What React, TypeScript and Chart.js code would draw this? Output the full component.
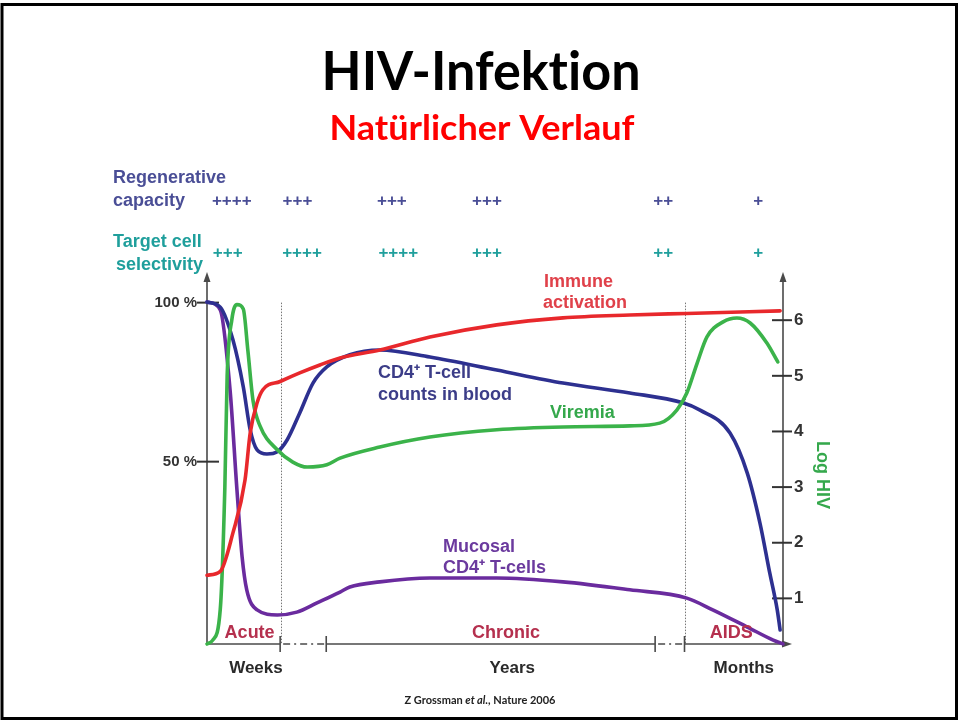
import React, { useEffect, useRef } from 'react';
import { Chart, registerables } from 'chart.js';

Chart.register(...registerables);

// ---- Data (time axis is schematic 0..100, left axis %, right axis log HIV) ----
const immuneX = [0, 2.3, 4.5, 6.6, 7.5, 8.7, 9.7, 12.7, 16.1, 19.6, 23.1, 30.0, 38.7, 50.3, 61.8, 73.4, 83.3, 99.5];
const immuneY = [14.3, 15.5, 27.6, 44.2, 59.0, 68.5, 72.6, 75.2, 77.9, 80.4, 82.6, 85.1, 89.2, 93.0, 95.2, 96.1, 96.6, 97.4];

const cd4BloodX = [0, 2.3, 4.5, 6.3, 7.5, 8.7, 10.4, 12.2, 13.9, 16.1, 18.4, 20.8, 24.8, 30.0, 38.7, 50.3, 61.8, 73.4, 82.6, 85.6, 90.8, 93.8, 96.0, 97.7, 99.0, 99.5];
const cd4BloodY = [100.2, 98.6, 88.3, 73.5, 60.0, 53.7, 52.4, 53.1, 56.8, 65.3, 74.7, 79.8, 83.6, 85.1, 82.9, 78.8, 74.7, 71.6, 68.5, 66.2, 59.0, 46.4, 30.7, 15.0, 3.4, -2.9];

const viremiaX = [0, 1.0, 2.3, 3.1, 3.5, 4.3, 5.2, 6.3, 7.1, 8.0, 9.2, 12.2, 14.9, 17.4, 20.8, 23.1, 30.0, 38.7, 50.3, 61.8, 73.4, 78.6, 81.6, 83.3, 85.1, 86.8, 89.6, 92.0, 94.3, 97.2, 99.1];
const viremiaY = [0.18, 0.25, 0.8, 3.0, 5.0, 6.0, 6.28, 6.2, 5.45, 4.55, 4.1, 3.67, 3.45, 3.36, 3.4, 3.52, 3.72, 3.9, 4.03, 4.08, 4.1, 4.15, 4.39, 4.69, 5.23, 5.7, 5.97, 6.04, 5.95, 5.59, 5.25];

const mucosalX = [0, 2.3, 4.0, 5.2, 6.1, 6.9, 8.7, 12.2, 15.6, 19.1, 23.1, 24.8, 30.0, 38.7, 50.3, 61.8, 73.4, 83.3, 87.8, 93.8, 98.3, 100];
const mucosalY = [100.2, 97.7, 72.6, 41.1, 20.0, 9.7, 3.4, 1.8, 2.7, 5.6, 9.0, 10.6, 12.2, 13.4, 13.4, 12.2, 9.7, 7.1, 3.4, -2.0, -6.1, -7.3];

const leftTicks = [50, 100];
const rightTicks = [1, 2, 3, 4, 5, 6];

const timeUnitLabels = ['Weeks', 'Years', 'Months'];
const timeUnitPos = [8.5, 53.0, 93.2];

const phaseLabels = ['Acute', 'Chronic', 'AIDS'];
const phasePos = [7.4, 51.9, 91.0];
const axisBreaks = [12.7, 20.7, 77.8, 82.9];
const dottedLines = [12.9, 83.0];

const regenLevels = ['++++', '+++', '+++', '+++', '++', '+'];
const regenPos = [4.3, 15.7, 32.1, 48.6, 79.2, 95.7];
const selectLevels = ['+++', '++++', '++++', '+++', '++', '+'];
const selectPos = [3.6, 16.5, 33.2, 48.6, 79.2, 95.7];

// ---- Styles ----
const RED = '#e8282c';
const BLUE = '#2d3090';
const GREEN = '#3bb34a';
const PURPLE = '#6a2b9e';
const REGEN_C = '#4a4e96';
const SELECT_C = '#1f9f9c';
const PHASE_C = '#b5304e';
const AXIS_C = '#4a4a4a';
const FONT = '"Liberation Sans", Arial, sans-serif';

const pts = (xs: number[], ys: number[]) => xs.map((x, i) => ({ x, y: ys[i] }));

function fitText(ctx: CanvasRenderingContext2D, text: string, cx: number, y: number, font: string, targetW: number, color: string) {
  ctx.save();
  ctx.font = font;
  const w = ctx.measureText(text).width;
  const sx = targetW / w;
  ctx.translate(cx, y);
  ctx.scale(sx, 1);
  ctx.fillStyle = color;
  ctx.textAlign = 'center';
  ctx.textBaseline = 'alphabetic';
  ctx.fillText(text, 0, 0);
  ctx.restore();
}

function txt(ctx: CanvasRenderingContext2D, text: string, x: number, y: number, size: number, color: string, align: CanvasTextAlign = 'left') {
  ctx.font = `bold ${size}px ${FONT}`;
  ctx.fillStyle = color;
  ctx.textAlign = align;
  ctx.textBaseline = 'middle';
  ctx.fillText(text, x, y);
}

const decor = {
  id: 'decor',
  beforeDraw(chart: any) {
    const ctx = chart.ctx as CanvasRenderingContext2D;
    ctx.save();
    ctx.fillStyle = '#ffffff';
    ctx.fillRect(0, 0, chart.width, chart.height);
    ctx.strokeStyle = '#000';
    ctx.lineWidth = 3;
    ctx.strokeRect(2, 4.5, 954.5, 714);
    ctx.restore();
  },
  beforeDatasetsDraw(chart: any) {
    const ctx = chart.ctx as CanvasRenderingContext2D;
    const xs = chart.scales.x;
    const a = chart.chartArea;
    ctx.save();
    // dotted phase separators
    ctx.strokeStyle = '#777';
    ctx.lineWidth = 1;
    ctx.setLineDash([1.5, 1.5]);
    for (const v of dottedLines) {
      const px = Math.round(xs.getPixelForValue(v)) + 0.5;
      ctx.beginPath();
      ctx.moveTo(px, chart.scales.y.getPixelForValue(100));
      ctx.lineTo(px, a.bottom);
      ctx.stroke();
    }
    ctx.setLineDash([]);
    // axes
    ctx.strokeStyle = AXIS_C;
    ctx.fillStyle = AXIS_C;
    ctx.lineWidth = 1.6;
    ctx.beginPath();
    ctx.moveTo(a.left, a.top + 4);
    ctx.lineTo(a.left, a.bottom);
    ctx.moveTo(a.right, a.top + 4);
    ctx.lineTo(a.right, a.bottom);
    ctx.stroke();
    // arrows
    const arrowUp = (x: number, y: number) => {
      ctx.beginPath();
      ctx.moveTo(x, y);
      ctx.lineTo(x - 3.5, y + 10);
      ctx.lineTo(x + 3.5, y + 10);
      ctx.closePath();
      ctx.fill();
    };
    arrowUp(a.left, a.top - 2);
    arrowUp(a.right, a.top - 2);
    const endX = a.right + 9;
    ctx.beginPath();
    ctx.moveTo(endX, a.bottom);
    ctx.lineTo(endX - 10, a.bottom - 3.5);
    ctx.lineTo(endX - 10, a.bottom + 3.5);
    ctx.closePath();
    ctx.fill();
    // bottom axis with dash-dot breaks
    const b = axisBreaks.map((v) => xs.getPixelForValue(v));
    const seg = (x1: number, x2: number, dash: number[]) => {
      ctx.setLineDash(dash);
      ctx.beginPath();
      ctx.moveTo(x1, a.bottom);
      ctx.lineTo(x2, a.bottom);
      ctx.stroke();
    };
    seg(a.left, b[0], []);
    seg(b[0] + 3, b[1], [7, 4, 2, 4]);
    seg(b[1], b[2], []);
    seg(b[2] + 3, b[3], [7, 4, 2, 4]);
    seg(b[3], endX - 6, []);
    ctx.setLineDash([]);
    ctx.lineWidth = 1.6;
    for (const px of b) {
      ctx.beginPath();
      ctx.moveTo(px, a.bottom - 8);
      ctx.lineTo(px, a.bottom + 8);
      ctx.stroke();
    }
    // left/right tick marks
    ctx.lineWidth = 2;
    ctx.strokeStyle = '#333';
    for (const v of leftTicks) {
      const py = chart.scales.y.getPixelForValue(v);
      ctx.beginPath();
      ctx.moveTo(a.left - 10, py);
      ctx.lineTo(a.left + 12, py);
      ctx.stroke();
    }
    for (const v of rightTicks) {
      const py = chart.scales.y2.getPixelForValue(v);
      ctx.beginPath();
      ctx.moveTo(a.right - 11, py);
      ctx.lineTo(a.right + 9, py);
      ctx.stroke();
    }
    ctx.restore();
  },
  afterDraw(chart: any) {
    const ctx = chart.ctx as CanvasRenderingContext2D;
    const xs = chart.scales.x;
    ctx.save();
    // title & subtitle (ZWNJ keeps "t" and "i" as separate glyphs)
    fitText(ctx, 'HIV-Infekt\u200Cion', 481, 90, `bold 53px Lato, "Open Sans", sans-serif`, 319, '#000');
    fitText(ctx, 'Natürlicher Verlauf', 482, 140, `bold 35px Lato, "Open Sans", sans-serif`, 305, '#ff0000');

    // top rows
    txt(ctx, 'Regenerative', 113, 178, 18, REGEN_C);
    txt(ctx, 'capacity', 113, 201, 18, REGEN_C);
    txt(ctx, 'Target cell', 113, 242, 18, SELECT_C);
    txt(ctx, 'selectivity', 116, 265, 18, SELECT_C);
    regenLevels.forEach((s, i) => txt(ctx, s, xs.getPixelForValue(regenPos[i]), 201, 17, REGEN_C, 'center'));
    selectLevels.forEach((s, i) => txt(ctx, s, xs.getPixelForValue(selectPos[i]), 253, 17, SELECT_C, 'center'));

    // series labels
    txt(ctx, 'Immune', 544, 282, 18, '#e0414a');
    txt(ctx, 'activation', 543, 303, 18, '#e0414a');
    txt(ctx, 'CD4⁺ T-cell', 378, 373, 18, '#3c3d88');
    txt(ctx, 'counts in blood', 378, 395, 18, '#3c3d88');
    txt(ctx, 'Viremia', 550, 413, 18, '#35a84c');
    txt(ctx, 'Mucosal', 443, 547, 18, '#6b3a9e');
    txt(ctx, 'CD4⁺ T-cells', 443, 568, 18, '#6b3a9e');

    // phases
    phaseLabels.forEach((s, i) => txt(ctx, s, xs.getPixelForValue(phasePos[i]), 633, 18, PHASE_C, 'center'));

    // Log HIV (rotated)
    ctx.save();
    ctx.translate(822, 475);
    ctx.rotate(Math.PI / 2);
    txt(ctx, 'Log HIV', 0, 0, 18, '#35a84c', 'center');
    ctx.restore();

    // footer
    const parts: [string, string][] = [
      ['Z Grossman ', 'bold 11px Lato, sans-serif'],
      ['et al.', 'italic bold 11px Lato, sans-serif'],
      [', Nature 2006', 'bold 11px Lato, sans-serif'],
    ];
    let total = 0;
    for (const [t, f] of parts) { ctx.font = f; total += ctx.measureText(t).width; }
    let x = 480 - total / 2;
    ctx.fillStyle = '#222';
    ctx.textAlign = 'left';
    ctx.textBaseline = 'middle';
    for (const [t, f] of parts) { ctx.font = f; ctx.fillText(t, x, 700); x += ctx.measureText(t).width; }
    ctx.restore();
  },
};

export default function App() {
  const ref = useRef<HTMLCanvasElement>(null);
  useEffect(() => {
    document.body.style.margin = '0';
    const line = (label: string, xs: number[], ys: number[], color: string, axis: string) => ({
      label,
      data: pts(xs, ys),
      borderColor: color,
      backgroundColor: color,
      borderWidth: 3.6,
      pointRadius: 0,
      fill: false,
      cubicInterpolationMode: 'monotone' as const,
      borderCapStyle: 'round' as const,
      borderJoinStyle: 'round' as const,
      yAxisID: axis,
      clip: false as const,
    });
    const chart = new Chart(ref.current!, {
      type: 'line',
      data: {
        datasets: [
          line('Immune activation', immuneX, immuneY, RED, 'y'),
          line('Viremia', viremiaX, viremiaY, GREEN, 'y2'),
          line('CD4+ T-cell counts in blood', cd4BloodX, cd4BloodY, BLUE, 'y'),
          line('Mucosal CD4+ T-cells', mucosalX, mucosalY, PURPLE, 'y'),
        ],
      },
      options: {
        animation: false,
        responsive: false,
        devicePixelRatio: 1,
        layout: { padding: { top: 274, left: 0, right: 0, bottom: 0 } },
        plugins: { legend: { display: false }, tooltip: { enabled: false }, title: { display: false } },
        scales: {
          x: {
            type: 'linear',
            min: 0,
            max: 100,
            grid: { display: false, drawTicks: false },
            border: { display: false },
            afterBuildTicks: (s: any) => { s.ticks = timeUnitPos.map((v) => ({ value: v })); },
            afterFit: (s: any) => { s.height = 77; },
            ticks: {
              autoSkip: false,
              maxRotation: 0,
              padding: 14,
              color: '#2a2a2a',
              font: { family: FONT, size: 17, weight: 'bold' },
              callback: (_v: any, i: number) => timeUnitLabels[i],
            },
          },
          y: {
            position: 'left',
            min: -7.33,
            max: 109,
            grid: { display: false, drawTicks: false },
            border: { display: false },
            afterBuildTicks: (s: any) => { s.ticks = leftTicks.map((v) => ({ value: v })); },
            afterFit: (s: any) => { s.width = 207; },
            ticks: {
              padding: 10,
              color: '#333',
              font: { family: FONT, size: 15, weight: 'bold' },
              callback: (v: any) => `${v} %`,
            },
          },
          y2: {
            position: 'right',
            min: 0.18,
            max: 6.83,
            grid: { display: false, drawTicks: false },
            border: { display: false },
            afterBuildTicks: (s: any) => { s.ticks = rightTicks.map((v) => ({ value: v })); },
            afterFit: (s: any) => { s.width = 176; },
            ticks: {
              padding: 11,
              color: '#333',
              font: { family: FONT, size: 17, weight: 'bold' },
              callback: (v: any) => `${v}`,
            },
          },
        },
      },
      plugins: [decor],
    } as any);
    return () => chart.destroy();
  }, []);
  return <canvas ref={ref} width={959} height={721} style={{ display: 'block', width: 959, height: 721 }} />;
}
